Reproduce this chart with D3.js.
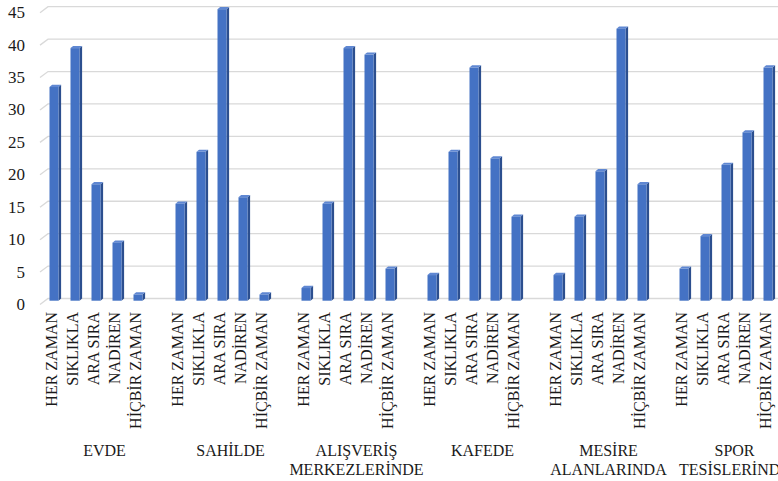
<!DOCTYPE html>
<html>
<head>
<meta charset="utf-8">
<script src="https://cdnjs.cloudflare.com/ajax/libs/d3/7.8.5/d3.min.js"></script>
<style>
    html, body { margin: 0; padding: 0; background: #fff; overflow: hidden; }
</style>
</head>
<body>
<div id="chart"></div>
<script>
// categories (outer groups, with wrapped label lines) and inner responses
var groups = ["EVDE", "SAHİLDE", "ALIŞVERİŞ MERKEZLERİNDE", "KAFEDE", "MESİRE ALANLARINDA", "SPOR TESİSLERİNDE"];
var groupLines = [["EVDE"], ["SAHİLDE"], ["ALIŞVERİŞ", "MERKEZLERİNDE"], ["KAFEDE"], ["MESİRE", "ALANLARINDA"], ["SPOR", "TESİSLERİNDE"]];
var responses = ["HER ZAMAN", "SIKLIKLA", "ARA SIRA", "NADİREN", "HİÇBİR ZAMAN"];

// values per group, in the order of responses
var evde = [33, 39, 18, 9, 1];
var sahilde = [15, 23, 45, 16, 1];
var alisveris = [2, 15, 39, 38, 5];
var kafede = [4, 23, 36, 22, 13];
var mesire = [4, 13, 20, 42, 18];
var spor = [5, 10, 21, 26, 36];
var seriesValues = [evde, sahilde, alisveris, kafede, mesire, spor];

var yTicks = [0, 5, 10, 15, 20, 25, 30, 35, 40, 45];

var data = [];
groups.forEach(function(g, gi) {
    responses.forEach(function(r, ri) {
        data.push({group: g, name: r, count: seriesValues[gi][ri]});
    });
});

var W = 778, H = 481;
var plotLeft = 43.5, slot = 21;
var barWidth = 9, sideW = 2.6, topH = 2.2;
var serif = "Liberation Serif";

var svg = d3.select("#chart")
    .append("svg")
    .attr("width", W)
    .attr("height", H)
    .attr("font-family", serif);

svg.append("rect").attr("width", W).attr("height", H).attr("fill", "#fff");

// each group takes 6 slots: 5 bars plus one empty slot
var x0 = d3.scaleBand()
    .domain(groups)
    .range([plotLeft, plotLeft + groups.length * (responses.length + 1) * slot]);

var x1 = d3.scaleBand()
    .domain(responses.concat(["_gap"]))
    .range([0, x0.bandwidth()]);

var y = d3.scaleLinear()
    .domain([0, 45])
    .range([298.5, 6.7]);

function cx(d) { return x0(d.group) + x1(d.name) + x1.bandwidth() / 2; }

// gridlines with a slanted floor-to-wall segment on the left
svg.append("g")
    .selectAll("path")
    .data(yTicks).enter()
    .append("path")
    .attr("d", function(v) {
        var yy = y(v);
        return "M40," + (yy + 6) + "L48," + yy + "L" + W + "," + yy;
    })
    .attr("fill", "none")
    .attr("stroke", "#d9d9d9")
    .attr("stroke-width", 1.3);

// y tick labels
svg.append("g")
    .selectAll("text")
    .data(yTicks).enter()
    .append("text")
    .attr("x", 25)
    .attr("y", function(v) { return y(v) + 5.5; })
    .attr("dy", "0.35em")
    .attr("text-anchor", "end")
    .attr("font-family", serif)
    .attr("font-size", 17)
    .attr("fill", "#1a1a1a")
    .text(function(v) { return v; });

// 3D-ish columns: side, top, front
var bars = svg.append("g")
    .selectAll("g")
    .data(data).enter()
    .append("g");

bars.append("path")
    .attr("d", function(d) {
        var l = cx(d) + barWidth / 2, t = y(d.count) + 2.5, b = y(0) + 2.2;
        return "M" + l + "," + t + "L" + (l + sideW) + "," + (t - topH) +
            "L" + (l + sideW) + "," + (b - topH) + "L" + l + "," + b + "Z";
    })
    .attr("fill", "#2c4f8f");

bars.append("path")
    .attr("d", function(d) {
        var l = cx(d) - barWidth / 2, r = l + barWidth, t = y(d.count) + 2.5;
        return "M" + l + "," + t + "L" + (l + sideW) + "," + (t - topH) +
            "L" + (r + sideW) + "," + (t - topH) + "L" + r + "," + t + "Z";
    })
    .attr("fill", "#5f87d2");

bars.append("rect")
    .attr("x", function(d) { return cx(d) - barWidth / 2; })
    .attr("y", function(d) { return y(d.count) + 2.5; })
    .attr("width", barWidth)
    .attr("height", function(d) { return y(0) + 2.2 - (y(d.count) + 2.5); })
    .attr("fill", "#4472c4");

// rotated response labels
svg.append("g")
    .selectAll("text")
    .data(data).enter()
    .append("text")
    .attr("transform", function(d) { return "translate(" + (cx(d) - 3) + ",312) rotate(-90)"; })
    .attr("dy", "0.35em")
    .attr("text-anchor", "end")
    .attr("font-family", serif)
    .attr("font-size", 16)
    .attr("fill", "#1a1a1a")
    .text(function(d) { return d.name; });

// group labels
var gl = svg.append("g")
    .selectAll("text")
    .data(groups).enter()
    .append("text")
    .attr("text-anchor", "middle")
    .attr("font-family", serif)
    .attr("font-size", 16)
    .attr("fill", "#1a1a1a");

gl.selectAll("tspan")
    .data(function(g, i) { return groupLines[i].map(function(t) { return {g: g, t: t}; }); })
    .enter()
    .append("tspan")
    .attr("x", function(d) { return x0(d.g) + x0.bandwidth() / 2 - 2; })
    .attr("y", function(d, i) { return 455.5 + i * 19; })
    .text(function(d) { return d.t; });
</script>
</body>
</html>
